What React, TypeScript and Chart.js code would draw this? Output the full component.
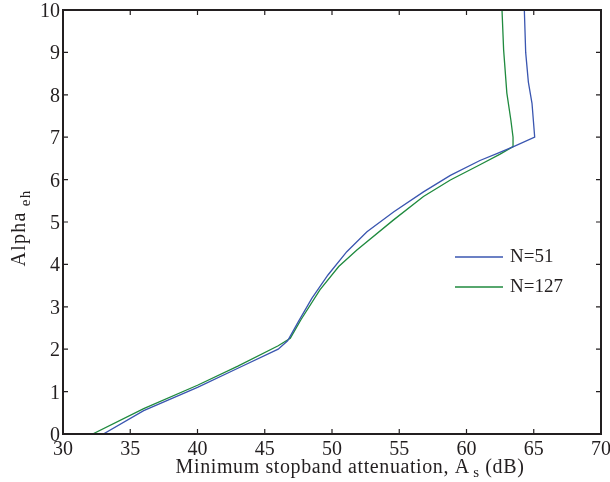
import React, { useEffect, useRef } from "react";
import { Chart, registerables } from "chart.js";

Chart.register(...registerables);

// Filter design curves: minimum stopband attenuation (dB) vs. window parameter
const n51Atten = [33.0, 36.0, 40.0, 43.0, 46.0, 46.7, 47.5, 48.5, 49.7, 51.1, 52.6, 54.6, 56.8, 58.8, 61.0, 62.3, 63.5, 65.07, 64.87, 64.6, 64.4, 64.3];
const n51Alpha = [0.0, 0.55, 1.1, 1.55, 2.0, 2.2, 2.65, 3.2, 3.75, 4.3, 4.77, 5.24, 5.71, 6.1, 6.45, 6.62, 6.78, 7.0, 7.8, 8.3, 9.0, 10.0];

const n127Atten = [32.2, 36.0, 40.0, 43.0, 46.0, 46.9, 47.7, 49.1, 50.5, 51.85, 54.58, 56.8, 58.8, 61.0, 62.5, 63.46, 63.46, 63.3, 63.0, 62.76, 62.64];
const n127Alpha = [0.0, 0.6, 1.15, 1.6, 2.08, 2.26, 2.7, 3.4, 3.95, 4.34, 5.05, 5.6, 5.99, 6.35, 6.6, 6.78, 7.0, 7.4, 8.04, 9.06, 10.0];

const seriesLabels = ["N=51", "N=127"];
const seriesColors = ["#3a56b0", "#1f8a3e"];

const xTicks = [30, 35, 40, 45, 50, 55, 60, 65, 70];
const yTicks = [0, 1, 2, 3, 4, 5, 6, 7, 8, 9, 10];

const FONT = "'Liberation Serif', 'DejaVu Serif', serif";
const INK = "#231f20";

// Draws a run of [text, font, baseline offset] pieces centred on cx
function drawRuns(ctx: any, runs: [string, string, number][], cx: number, base: number, spacing: number) {
  ctx.letterSpacing = `${spacing}px`;
  let total = 0;
  runs.forEach(([t, f]) => {
    ctx.font = f;
    total += ctx.measureText(t).width;
  });
  let x = cx - total / 2;
  runs.forEach(([t, f, dy]) => {
    ctx.font = f;
    ctx.fillText(t, x, base + dy);
    x += ctx.measureText(t).width;
  });
  ctx.letterSpacing = "0px";
}

const framePlugin = {
  id: "frame",
  afterDraw(chart: any) {
    const { ctx, chartArea: a, scales } = chart;
    const x = scales.x;
    const y = scales.y;
    ctx.save();

    // inward ticks on all four sides
    ctx.strokeStyle = INK;
    ctx.lineWidth = 1.2;
    const tl = 5;
    ctx.beginPath();
    xTicks.forEach((v) => {
      const px = x.getPixelForValue(v);
      ctx.moveTo(px, a.bottom);
      ctx.lineTo(px, a.bottom - tl);
      ctx.moveTo(px, a.top);
      ctx.lineTo(px, a.top + tl);
    });
    yTicks.forEach((v) => {
      const py = y.getPixelForValue(v);
      ctx.moveTo(a.left, py);
      ctx.lineTo(a.left + tl, py);
      ctx.moveTo(a.right, py);
      ctx.lineTo(a.right - tl, py);
    });
    ctx.stroke();
    ctx.lineWidth = 2;
    ctx.strokeRect(a.left, a.top, a.right - a.left, a.bottom - a.top);

    // tick labels
    ctx.fillStyle = INK;
    ctx.font = `20px ${FONT}`;
    ctx.textBaseline = "alphabetic";
    ctx.textAlign = "center";
    xTicks.forEach((v) => {
      ctx.fillText(String(v), x.getPixelForValue(v), a.bottom + 21);
    });
    ctx.textAlign = "right";
    yTicks.forEach((v) => {
      ctx.fillText(String(v), a.left - 3, y.getPixelForValue(v) + 7);
    });

    // legend inside the plot
    ctx.textAlign = "left";
    ctx.font = `19px ${FONT}`;
    ctx.textBaseline = "middle";
    const legY = [257, 287];
    chart.data.datasets.forEach((ds: any, i: number) => {
      ctx.strokeStyle = ds.borderColor;
      ctx.lineWidth = 1.3;
      ctx.beginPath();
      ctx.moveTo(455, legY[i]);
      ctx.lineTo(503, legY[i]);
      ctx.stroke();
      ctx.fillText(ds.label, 510, legY[i]);
    });

    // axis titles with subscripts
    ctx.textBaseline = "alphabetic";
    const big = `20px ${FONT}`;
    const small = `15px ${FONT}`;
    drawRuns(
      ctx,
      [
        ["Minimum stopband attenuation, A", big, 0],
        ["\u2009s", small, 4],
        [" (dB)", big, 0],
      ],
      (a.left + a.right) / 2 + 18,
      473,
      0.6
    );

    ctx.translate(25, (a.top + a.bottom) / 2 + 6);
    ctx.rotate(-Math.PI / 2);
    drawRuns(
      ctx,
      [
        ["Alpha", big, 0],
        [" eh", small, 5],
      ],
      0,
      0,
      1.3
    );
    ctx.restore();
  },
};

export default function App() {
  const ref = useRef<HTMLCanvasElement | null>(null);

  useEffect(() => {
    if (!ref.current) return;
    const pairs = (xs: number[], ys: number[]) => xs.map((v, i) => ({ x: v, y: ys[i] }));
    const chart = new Chart(ref.current, {
      type: "scatter",
      data: {
        datasets: [
          {
            label: seriesLabels[0],
            data: pairs(n51Atten, n51Alpha),
            showLine: true,
            borderColor: seriesColors[0],
            borderWidth: 1.3,
            pointRadius: 0,
            tension: 0,
          },
          {
            label: seriesLabels[1],
            data: pairs(n127Atten, n127Alpha),
            showLine: true,
            borderColor: seriesColors[1],
            borderWidth: 1.3,
            pointRadius: 0,
            tension: 0,
          },
        ],
      },
      options: {
        animation: false,
        responsive: false,
        maintainAspectRatio: false,
        layout: { padding: { top: 10, right: 9, left: 0, bottom: 0 } },
        plugins: { legend: { display: false }, tooltip: { enabled: false } },
        scales: {
          x: {
            type: "linear",
            min: 30,
            max: 70,
            afterBuildTicks: (s: any) => {
              s.ticks = xTicks.map((v) => ({ value: v }));
            },
            afterFit: (s: any) => {
              s.height = 48;
            },
            grid: { display: false, drawTicks: false },
            border: { display: false },
            ticks: { display: false },
          },
          y: {
            type: "linear",
            min: 0,
            max: 10,
            afterBuildTicks: (s: any) => {
              s.ticks = yTicks.map((v) => ({ value: v }));
            },
            afterFit: (s: any) => {
              s.width = 63;
            },
            grid: { display: false, drawTicks: false },
            border: { display: false },
            ticks: { display: false },
          },
        },
      },
      plugins: [framePlugin],
    });
    return () => chart.destroy();
  }, []);

  return (
    <div style={{ position: "fixed", left: 0, top: 0, width: 610, height: 482, background: "#fff" }}>
      <canvas ref={ref} width={610} height={482} style={{ display: "block", width: 610, height: 482 }} />
    </div>
  );
}
